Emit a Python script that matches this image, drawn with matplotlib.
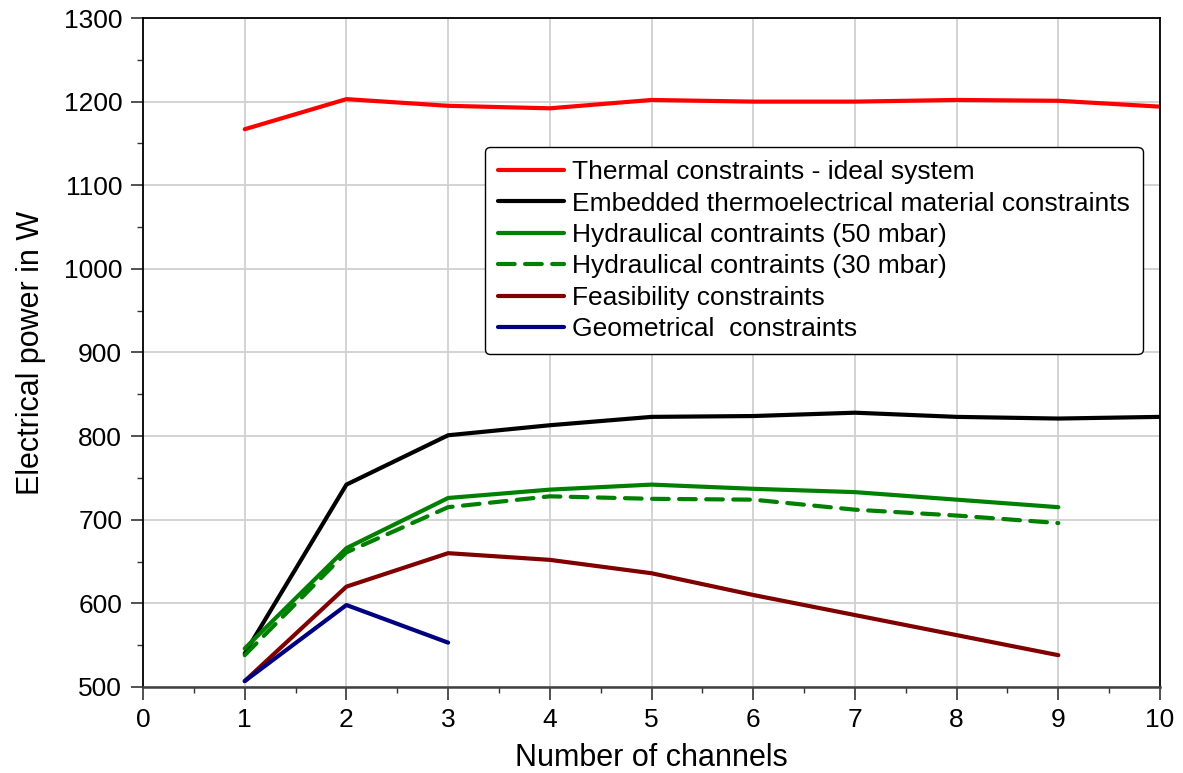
import matplotlib
matplotlib.use("Agg")
import matplotlib.pyplot as plt
from matplotlib.ticker import MultipleLocator

plt.rcParams['font.family'] = ['Liberation Sans', 'DejaVu Sans']

channels_full = [1, 2, 3, 4, 5, 6, 7, 8, 9, 10]
thermal = [1167, 1203, 1195, 1192, 1202, 1200, 1200, 1202, 1201, 1194]
embedded = [540, 742, 801, 813, 823, 824, 828, 823, 821, 823]

channels_9 = [1, 2, 3, 4, 5, 6, 7, 8, 9]
hydraulic50 = [546, 666, 726, 736, 742, 737, 733, 724, 715]
hydraulic30 = [538, 661, 715, 728, 725, 724, 712, 705, 696]
feasibility = [507, 620, 660, 652, 636, 610, 586, 562, 538]

channels_3 = [1, 2, 3]
geometrical = [507, 598, 553]

labels = [
    "Thermal constraints - ideal system",
    "Embedded thermoelectrical material constraints",
    "Hydraulical contraints (50 mbar)",
    "Hydraulical contraints (30 mbar)",
    "Feasibility constraints",
    "Geometrical  constraints",
]

fig = plt.figure(figsize=(11.83, 7.73), dpi=100)
ax = fig.add_axes([0.1209, 0.1113, 0.8597, 0.8654])

lw = 3.0
ax.plot(channels_full, thermal, color='#ff0000', lw=lw, label=labels[0], solid_capstyle='round')
ax.plot(channels_full, embedded, color='#000000', lw=lw, label=labels[1], solid_capstyle='round')
ax.plot(channels_9, hydraulic50, color='#008000', lw=lw, label=labels[2], solid_capstyle='round')
ax.plot(channels_9, hydraulic30, color='#008000', lw=lw, ls=(0, (4, 2.5)), label=labels[3],
        dash_capstyle='round')
ax.plot(channels_9, feasibility, color='#800000', lw=lw, label=labels[4], solid_capstyle='round')
ax.plot(channels_3, geometrical, color='#000080', lw=lw, label=labels[5], solid_capstyle='round')

ax.set_xlim(0, 10)
ax.set_ylim(500, 1300)
ax.xaxis.set_major_locator(MultipleLocator(1))
ax.xaxis.set_minor_locator(MultipleLocator(0.5))
ax.yaxis.set_major_locator(MultipleLocator(100))
ax.yaxis.set_minor_locator(MultipleLocator(50))

ax.grid(True, which='major', color='#d0d0d0', lw=1.3)
ax.set_axisbelow(True)

ax.tick_params(axis='both', which='major', direction='out', length=9, width=1.2,
               labelsize=19, color='#333333', pad=6)
ax.tick_params(axis='both', which='minor', direction='out', length=4.5, width=1.0, color='#333333')

for s in ['left', 'right', 'top']:
    ax.spines[s].set_color('#000000')
    ax.spines[s].set_linewidth(1.3)
ax.spines['bottom'].set_color('#404040')
ax.spines['bottom'].set_linewidth(1.8)

ax.set_xlabel("Number of channels", fontsize=22, labelpad=8)
ax.set_ylabel("Electrical power in W", fontsize=22, labelpad=13)

leg = ax.legend(loc='upper right', bbox_to_anchor=(0.983, 0.807), borderaxespad=0,
                frameon=True, fancybox=True, framealpha=1, edgecolor='#000000',
                handlelength=2.5, handletextpad=0.3, labelspacing=0.28, borderpad=0.5,
                prop={'size': 19})
leg.get_frame().set_linewidth(1.0)

fig.savefig("out.png", dpi=100, facecolor='white')
